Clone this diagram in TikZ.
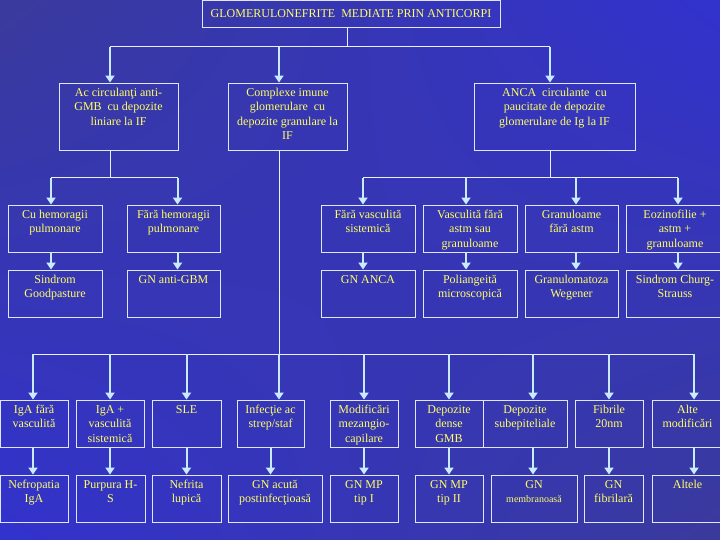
\documentclass[tikz,border=0pt]{standalone}
\usepackage{fontspec}
\setmainfont{Liberation Serif}
\usetikzlibrary{arrows.meta, positioning, calc, shadings}

\definecolor{bgdark}{RGB}{58,58,156}
\definecolor{bglight}{RGB}{50,50,206}
\definecolor{boxline}{RGB}{225,230,255}
\definecolor{txtyellow}{RGB}{255,255,100}
\definecolor{arrowblue}{RGB}{200,235,255}
\definecolor{feedline}{RGB}{235,240,255}

% box text: width, height, lines (top aligned)
\newcommand{\cellbox}[3]{\parbox[c][\dimexpr#2-6pt\relax][t]{\dimexpr#1-4pt\relax}{\centering\strut#3}}

\tikzset{
  catnode/.style={
    draw=boxline, line width=0.9pt,
    inner xsep=2pt, inner ysep=3pt,
    text=txtyellow,
    font=\fontsize{12}{14.5}\selectfont
  },
  feeder/.style={draw=feedline, line width=1pt},
  arrow/.style={-{Triangle[length=7pt, width=9pt]}, line width=2pt, draw=arrowblue, fill=arrowblue}
}

\begin{document}
\begin{tikzpicture}[x=1pt, y=-1pt]

  % Background
  \useasboundingbox (0,0) rectangle (720,540);
  \shade[upper left=bgdark, upper right=bglight, lower left=bglight, lower right=bgdark]
    (0,0) rectangle (720,540);

  % Title
  \node[catnode, minimum width=298pt, minimum height=27pt, inner sep=0pt] (title) at (351,13.5)
    {GLOMERULONEFRITE\ \ MEDIATE PRIN ANTICORPI};

  % Bus lines
  \coordinate (bus1) at (0,47);
  \coordinate (bus2) at (0,178);
  \coordinate (bus4) at (0,354);

  % Level 1
  \node[catnode] (ac) at (118.5,116.5)
    {\cellbox{119pt}{67pt}{Ac circulanţi anti-\\GMB\ \ cu depozite\\liniare la IF}};
  \node[catnode] (imm) at (287.5,116.5)
    {\cellbox{119pt}{67pt}{Complexe imune\\glomerulare\ \ cu\\depozite granulare la\\IF}};
  \node[catnode] (anca) at (554.5,116.5)
    {\cellbox{161pt}{67pt}{ANCA\ \ circulante\ \ cu\\paucitate de depozite\\glomerulare de Ig la IF}};

  % Level 2
  \node[catnode] (cuhem) at (55,228.5) {\cellbox{94pt}{47pt}{Cu hemoragii\\pulmonare}};
  \node[catnode] (farahem) at (173.5,228.5) {\cellbox{93pt}{47pt}{Fără hemoragii\\pulmonare}};
  \node[catnode] (farav) at (368,228.5) {\cellbox{94pt}{47pt}{Fără vasculită\\sistemică}};
  \node[catnode] (vasc) at (470,228.5) {\cellbox{94pt}{47pt}{Vasculită fără\\astm sau\\granuloame}};
  \node[catnode] (gran) at (571.5,228.5) {\cellbox{93pt}{47pt}{Granuloame\\fără astm}};
  \node[catnode] (eoz) at (675,228.5) {\cellbox{98pt}{47pt}{Eozinofilie +\\astm +\\granuloame}};

  % Level 3
  \node[catnode] (goodp) at (55,293.5) {\cellbox{94pt}{47pt}{Sindrom\\Goodpasture}};
  \node[catnode] (antigbm) at (173.5,293.5) {\cellbox{93pt}{47pt}{GN anti-GBM}};
  \node[catnode] (gnanca) at (368,293.5) {\cellbox{94pt}{47pt}{GN ANCA}};
  \node[catnode] (poli) at (470,293.5) {\cellbox{94pt}{47pt}{Poliangeită\\microscopică}};
  \node[catnode] (wegener) at (571.5,293.5) {\cellbox{93pt}{47pt}{Granulomatoza\\Wegener}};
  \node[catnode] (churg) at (675,293.5) {\cellbox{98pt}{47pt}{Sindrom Churg-\\Strauss}};

  % Level 4
  \node[catnode] (igaf) at (34,423.5) {\cellbox{68pt}{47pt}{IgA fără\\vasculită}};
  \node[catnode] (igav) at (110,423.5) {\cellbox{68pt}{47pt}{IgA +\\vasculită\\sistemică}};
  \node[catnode] (sle) at (186.5,423.5) {\cellbox{69pt}{47pt}{SLE}};
  \node[catnode] (inf) at (270.5,423.5) {\cellbox{67pt}{47pt}{Infecţie ac\\strep/staf}};
  \node[catnode] (mezang) at (364,423.5) {\cellbox{68pt}{47pt}{Modificări\\mezangio-\\capilare}};
  \node[catnode] (dense) at (449,423.5) {\cellbox{68pt}{47pt}{Depozite\\dense\\GMB}};
  \node[catnode] (subep) at (525,423.5) {\cellbox{84pt}{47pt}{Depozite\\subepiteliale}};
  \node[catnode] (fibr) at (609,423.5) {\cellbox{68pt}{47pt}{Fibrile\\20nm}};
  \node[catnode] (altem) at (687.5,423.5) {\cellbox{71pt}{47pt}{Alte\\modificări}};

  % Level 5
  \node[catnode] (nefr) at (34,498.5) {\cellbox{68pt}{47pt}{Nefropatia\\IgA}};
  \node[catnode] (purp) at (110.5,498.5) {\cellbox{69pt}{47pt}{Purpura H-\\S}};
  \node[catnode] (nefl) at (186.5,498.5) {\cellbox{69pt}{47pt}{Nefrita\\lupică}};
  \node[catnode] (gnac) at (275,498.5) {\cellbox{94pt}{47pt}{GN acută\\postinfecţioasă}};
  \node[catnode] (mp1) at (364,498.5) {\cellbox{68pt}{47pt}{GN MP\\tip I}};
  \node[catnode] (mp2) at (449,498.5) {\cellbox{68pt}{47pt}{GN MP\\tip II}};
  \node[catnode] (gnmem) at (534,498.5)
    {\cellbox{86pt}{47pt}{GN\\{\fontsize{10}{12}\selectfont membranoasă}}};
  \node[catnode] (gnfib) at (613.5,498.5) {\cellbox{59pt}{47pt}{GN\\fibrilară}};
  \node[catnode] (altele) at (687.5,498.5) {\cellbox{71pt}{47pt}{Altele}};

  % Title to level 1
  \draw[feeder] ([xshift=-4pt]title.south) -- ([xshift=-4pt]title.south |- bus1);
  \draw[feeder] ([xshift=-8.5pt]ac.north |- bus1) -- ([xshift=-4.5pt]anca.north |- bus1);
  \draw[arrow] ([xshift=-8.5pt]ac.north |- bus1) -- ([xshift=-8.5pt]ac.north);
  \draw[arrow] ([xshift=-8.5pt]imm.north |- bus1) -- ([xshift=-8.5pt]imm.north);
  \draw[arrow] ([xshift=-4.5pt]anca.north |- bus1) -- ([xshift=-4.5pt]anca.north);

  % Anti-GMB branch
  \draw[feeder] ([xshift=-8.5pt]ac.south) -- ([xshift=-8.5pt]ac.south |- bus2);
  \draw[feeder] ([xshift=-4pt]cuhem.north |- bus2) -- ([xshift=4pt]farahem.north |- bus2);
  \draw[arrow] ([xshift=-4pt]cuhem.north |- bus2) -- ([xshift=-4pt]cuhem.north);
  \draw[arrow] ([xshift=4pt]farahem.north |- bus2) -- ([xshift=4pt]farahem.north);
  \draw[arrow] ([xshift=-4pt]cuhem.south) -- ([xshift=-4pt]goodp.north);
  \draw[arrow] ([xshift=4pt]farahem.south) -- ([xshift=4pt]antigbm.north);

  % ANCA branch
  \draw[feeder] ([xshift=-4.5pt]anca.south) -- ([xshift=-4.5pt]anca.south |- bus2);
  \draw[feeder] ([xshift=-5pt]farav.north |- bus2) -- ([xshift=3pt]eoz.north |- bus2);
  \draw[arrow] ([xshift=-5pt]farav.north |- bus2) -- ([xshift=-5pt]farav.north);
  \draw[arrow] ([xshift=-4pt]vasc.north |- bus2) -- ([xshift=-4pt]vasc.north);
  \draw[arrow] ([xshift=4.5pt]gran.north |- bus2) -- ([xshift=4.5pt]gran.north);
  \draw[arrow] ([xshift=3pt]eoz.north |- bus2) -- ([xshift=3pt]eoz.north);
  \draw[arrow] ([xshift=-5pt]farav.south) -- ([xshift=-5pt]gnanca.north);
  \draw[arrow] ([xshift=-4pt]vasc.south) -- ([xshift=-4pt]poli.north);
  \draw[arrow] ([xshift=4.5pt]gran.south) -- ([xshift=4.5pt]wegener.north);
  \draw[arrow] ([xshift=3pt]eoz.south) -- ([xshift=3pt]churg.north);

  % Immune complex branch
  \draw[feeder] ([xshift=-8.5pt]imm.south) -- ([xshift=-8.5pt]imm.south |- bus4);
  \draw[feeder] ([xshift=-1pt]igaf.north |- bus4) -- ([xshift=6.5pt]altem.north |- bus4);
  \draw[arrow] ([xshift=-1pt]igaf.north |- bus4) -- ([xshift=-1pt]igaf.north);
  \draw[arrow] (igav.north |- bus4) -- (igav.north);
  \draw[arrow] (sle.north |- bus4) -- (sle.north);
  \draw[arrow] ([xshift=8.5pt]inf.north |- bus4) -- ([xshift=8.5pt]inf.north);
  \draw[arrow] (mezang.north |- bus4) -- (mezang.north);
  \draw[arrow] (dense.north |- bus4) -- (dense.north);
  \draw[arrow] ([xshift=8pt]subep.north |- bus4) -- ([xshift=8pt]subep.north);
  \draw[arrow] (fibr.north |- bus4) -- (fibr.north);
  \draw[arrow] ([xshift=6.5pt]altem.north |- bus4) -- ([xshift=6.5pt]altem.north);

  % Level 4 to level 5
  \draw[arrow] ([xshift=-1pt]igaf.south) -- ([xshift=-1pt]igaf.south |- nefr.north);
  \draw[arrow] (igav.south) -- (igav.south |- purp.north);
  \draw[arrow] (sle.south) -- (sle.south |- nefl.north);
  \draw[arrow] (inf.south) -- (inf.south |- gnac.north);
  \draw[arrow] (mezang.south) -- (mezang.south |- mp1.north);
  \draw[arrow] (dense.south) -- (dense.south |- mp2.north);
  \draw[arrow] ([xshift=8pt]subep.south) -- ([xshift=8pt]subep.south |- gnmem.north);
  \draw[arrow] (fibr.south) -- (fibr.south |- gnfib.north);
  \draw[arrow] ([xshift=6.5pt]altem.south) -- ([xshift=6.5pt]altem.south |- altele.north);

\end{tikzpicture}
\end{document}
